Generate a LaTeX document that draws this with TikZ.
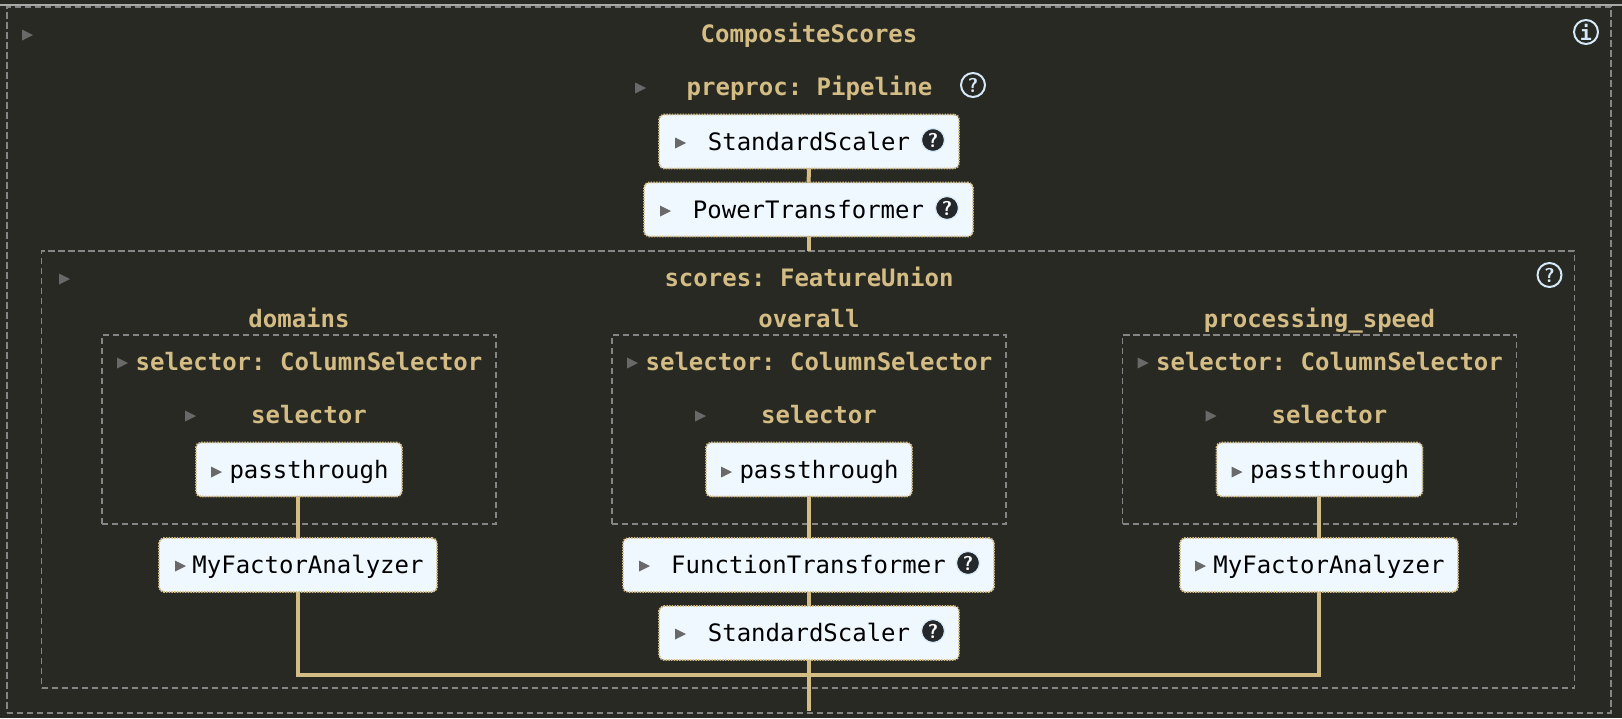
\documentclass[tikz,border=0pt]{standalone}
\usepackage{fontspec}
\setmainfont{DejaVu Sans}
\setmonofont{DejaVu Sans Mono}
\definecolor{pagebg}{HTML}{282923}
\definecolor{gold}{HTML}{D4BC85}
\definecolor{framegray}{HTML}{858585}
\definecolor{boxfill}{HTML}{F0F8FF}
\definecolor{trigray}{HTML}{696969}
\definecolor{iconblue}{HTML}{D5E9F8}
\definecolor{icondark}{HTML}{25282B}
\newcommand{\tri}[2]{\fill[trigray] (#1,#2-5.5) -- (#1+11,#2) -- (#1,#2+5.5) -- cycle;}
\tikzset{
    frame/.style={draw=framegray, line width=0.75pt, dash pattern=on 3.2pt off 1.8pt, inner sep=0pt, outer sep=0pt},
    title/.style={anchor=base, text=gold, font=\ttfamily\bfseries\fontsize{12}{14}\selectfont, inner sep=0pt},
    estimator/.style={draw=gold, line width=0.9pt, dash pattern=on 0.7pt off 0.65pt, fill=boxfill, rounded corners=2.5pt,
        minimum height=27pt, inner sep=0pt, outer sep=0pt, text=black, font=\ttfamily\fontsize{12}{14}\selectfont,
        text height=10pt, text depth=1.5pt},
    shifted/.style={execute at begin node={\hspace*{10pt}}},
    helpdark/.style={circle, draw=iconblue, line width=0.6pt, fill=icondark, text=white, minimum size=11.5pt, inner sep=0pt,
        font=\sffamily\bfseries\fontsize{10}{10}\selectfont},
    helplight/.style={circle, draw=iconblue, line width=1pt, text=iconblue, minimum size=12pt, inner sep=0pt,
        font=\sffamily\bfseries\fontsize{10}{10}\selectfont},
    link/.style={draw=gold, line width=2pt}
}
\begin{document}
\begin{tikzpicture}[x=0.5pt, y=-0.5pt]
    \fill[pagebg] (0,0) rectangle (1622,718);
    \useasboundingbox (0,0) rectangle (1622,718);
    \draw[color=white!60!pagebg, line width=1pt] (0,5) -- (1622,5);

    % frames
    \node[frame, line width=1pt, minimum width=802pt, minimum height=353pt] (composite) at (809,359.5) {};
    \node[frame, minimum width=766.5pt, minimum height=218.5pt] (scores) at (808,469.5) {};

    % top level
    \node[title] (compositetitle) at (809,42) {CompositeScores};
    \tri{22}{35}
    \node[helplight] (info) at (1586,32) {\ttfamily i};
    \node[title] (preproc) at (809.5,95) {preproc: Pipeline};
    \tri{635}{88}
    \node[helplight] (preprochelp) at (973,85) {?};

    \node[estimator, minimum width=150pt] (scaler) at (809,141.5) {StandardScaler};
    \tri{675}{143}
    \node[helpdark] (scalerhelp) at (933,140) {?};
    \node[estimator, minimum width=164.5pt] (power) at (808.5,209.5) {PowerTransformer};
    \tri{660}{211}
    \node[helpdark] (powerhelp) at (947,208) {?};

    \node[title] (scorestitle) at (809,286) {scores: FeatureUnion};
    \tri{59}{279}
    \node[helplight] (scoreshelp) at (1549.5,275) {?};

    % the three columns
    \foreach \col/\cx/\lab in {domains/299/domains, overall/809/overall, speed/1319.5/processing\_speed} {
        \node[title] (\col title) at (\cx,327) {\lab};
        \node[frame, minimum width=197pt, minimum height=94.5pt] (\col frame) at (\cx,429.5) {};
        \node[title] (\col sel) at (\cx+10,370) {selector: ColumnSelector};
        \tri{\cx-182}{363}
        \node[title] (\col inner) at (\cx+10,423) {selector};
        \tri{\cx-114}{416}
        \node[estimator, shifted, minimum width=103pt] (\col pass) at (\cx,469.5) {passthrough};
        \tri{\cx-88}{472}
    }

    \node[estimator, shifted, minimum width=139pt] (domainsfa) at (298,565) {MyFactorAnalyzer};
    \tri{175}{566}
    \node[estimator, shifted, minimum width=139pt] (speedfa) at (1319,565) {MyFactorAnalyzer};
    \tri{1195}{566}
    \node[estimator, minimum width=185.5pt] (function) at (808.5,565) {FunctionTransformer};
    \tri{639}{566}
    \node[helpdark] (functionhelp) at (968,563) {?};
    \node[estimator, minimum width=150pt] (scaler2) at (809,633) {StandardScaler};
    \tri{675}{634}
    \node[helpdark] (scaler2help) at (933,631) {?};

    \coordinate (joint) at (809,675);
    \coordinate (out) at (809,711);

    % connectors
    \draw[link] (scaler) -- (power);
    \draw[link] (power) -- (power |- scores.north);
    \draw[link] (domainspass.south -| domainsfa) -- (domainsfa);
    \draw[link] (overallpass) -- (function.north -| overallpass);
    \draw[link] (speedpass.south -| speedfa) -- (speedfa);
    \draw[link] (function.south -| joint) -- (scaler2.north -| joint);
    \draw[link] (scaler2.south -| joint) -- (joint) -- (out);
    \draw[link] (domainsfa) |- (joint) -| (speedfa);
\end{tikzpicture}
\end{document}
